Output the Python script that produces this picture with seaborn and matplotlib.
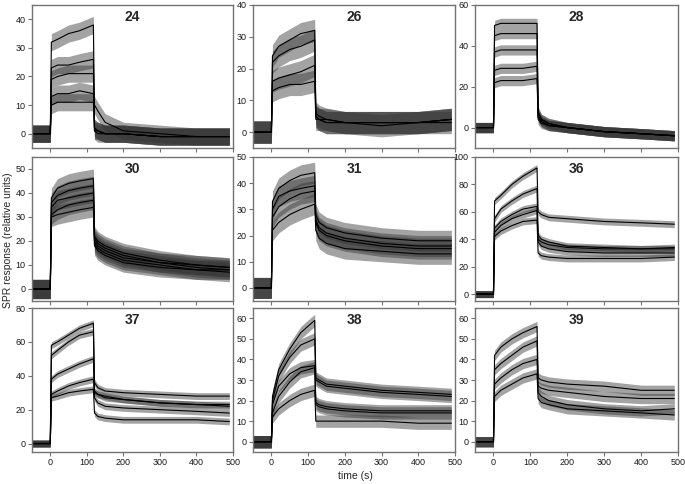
import numpy as np
import pandas as pd
import matplotlib
matplotlib.use("Agg")
import matplotlib.pyplot as plt
import seaborn as sns

times = [-50, 0, 3, 20, 50, 80, 118, 121, 130, 150, 200, 300, 400, 490]

panel_names = ["24", "26", "28", "30", "31", "36", "37", "38", "39"]

traces_24 = [
    [0, 0, 32, 33, 35, 36, 38, 2, 1, 0, 0, -1, -1, -1],
    [0, 0, 23, 24, 24, 25, 26, 2, 1, 0, 0, -1, -1, -1],
    [0, 0, 19, 20, 21, 21, 21, 1, 1, 0, 0, -1, -1, -1],
    [0, 0, 13, 14, 14, 15, 14, 10, 8, 4, 1, 0, -1, -1],
    [0, 0, 10, 11, 11, 11, 11, 1, 0, 0, 0, -1, -1, -1],
]
traces_26 = [
    [0, 0, 24, 27, 29, 31, 32, 6, 5, 4, 3, 3, 3, 4],
    [0, 0, 22, 24, 26, 27, 29, 5, 4, 4, 3, 3, 3, 4],
    [0, 0, 16, 17, 18, 19, 21, 5, 4, 3, 3, 3, 3, 4],
    [0, 0, 13, 14, 15, 15, 16, 4, 4, 3, 3, 2, 3, 3],
]
traces_28 = [
    [0, 0, 50, 51, 51, 51, 51, 8, 4, 2, 0, -2, -3, -4],
    [0, 0, 45, 46, 46, 46, 46, 7, 4, 2, 0, -2, -3, -4],
    [0, 0, 37, 38, 38, 38, 38, 6, 3, 1, 0, -2, -3, -4],
    [0, 0, 28, 29, 29, 29, 30, 5, 3, 1, 0, -2, -3, -4],
    [0, 0, 22, 23, 23, 23, 24, 4, 2, 1, 0, -2, -3, -4],
]
traces_30 = [
    [0, 0, 38, 42, 44, 45, 46, 22, 20, 18, 15, 12, 10, 9],
    [0, 0, 36, 39, 41, 42, 43, 21, 19, 17, 14, 11, 10, 9],
    [0, 0, 34, 37, 38, 39, 40, 20, 18, 16, 13, 11, 9, 8],
    [0, 0, 31, 33, 35, 36, 37, 19, 17, 15, 12, 10, 8, 8],
    [0, 0, 30, 31, 32, 33, 34, 18, 16, 14, 11, 9, 8, 7],
]
traces_31 = [
    [0, 0, 33, 38, 41, 43, 44, 28, 25, 23, 21, 19, 18, 18],
    [0, 0, 30, 35, 37, 38, 39, 26, 23, 21, 19, 17, 16, 16],
    [0, 0, 27, 31, 34, 36, 37, 25, 22, 20, 18, 16, 15, 15],
    [0, 0, 22, 25, 28, 30, 32, 22, 19, 17, 15, 14, 13, 13],
]
traces_36 = [
    [0, 0, 68, 72, 80, 86, 92, 60, 58, 56, 55, 53, 52, 51],
    [0, 0, 55, 62, 68, 73, 77, 43, 40, 38, 35, 34, 33, 34],
    [0, 0, 48, 53, 58, 62, 64, 40, 38, 36, 34, 33, 33, 33],
    [0, 0, 45, 50, 55, 58, 61, 38, 35, 33, 31, 30, 30, 30],
    [0, 0, 42, 46, 50, 53, 54, 30, 28, 27, 26, 26, 26, 27],
]
traces_37 = [
    [0, 0, 58, 60, 64, 68, 71, 36, 33, 31, 30, 29, 28, 28],
    [0, 0, 52, 55, 60, 64, 66, 31, 29, 27, 26, 24, 23, 23],
    [0, 0, 38, 41, 44, 47, 50, 27, 24, 22, 21, 20, 19, 18],
    [0, 0, 29, 31, 34, 36, 38, 30, 29, 28, 26, 24, 23, 22],
    [0, 0, 27, 28, 30, 31, 32, 18, 16, 15, 14, 14, 14, 13],
]
traces_38 = [
    [0, 0, 22, 35, 45, 53, 59, 31, 30, 28, 27, 25, 24, 23],
    [0, 0, 20, 32, 41, 47, 50, 30, 29, 27, 26, 24, 23, 22],
    [0, 0, 18, 27, 33, 36, 37, 19, 18, 17, 16, 15, 15, 15],
    [0, 0, 14, 22, 29, 34, 36, 18, 17, 16, 15, 14, 14, 14],
    [0, 0, 12, 16, 20, 23, 25, 10, 10, 10, 10, 10, 9, 9],
]
traces_39 = [
    [0, 0, 42, 46, 50, 53, 56, 31, 30, 29, 28, 27, 25, 25],
    [0, 0, 35, 38, 42, 46, 49, 27, 26, 25, 24, 22, 21, 21],
    [0, 0, 28, 31, 35, 38, 40, 24, 22, 20, 18, 16, 15, 16],
    [0, 0, 22, 25, 28, 31, 33, 21, 19, 18, 16, 15, 14, 13],
]
all_traces = [traces_24, traces_26, traces_28, traces_30, traces_31,
              traces_36, traces_37, traces_38, traces_39]

# half-width of the noise band seen on each panel (response units)
noise = [3.0, 3.5, 2.5, 4.0, 4.0, 2.5, 2.0, 3.0, 2.5]

y_limits = [(-5, 45), (-5, 40), (-10, 60), (-5, 55), (-5, 50),
            (-5, 100), (-5, 80), (-5, 65), (-5, 65)]
y_steps = [10, 10, 20, 10, 10, 20, 20, 10, 10]

sns.set_style("ticks")
plt.rcParams["font.family"] = ["Liberation Sans", "DejaVu Sans"]

fig = plt.figure(figsize=(6.85, 4.84), dpi=100)
W, H = 685, 484
col_left = [32, 253, 475]
col_width = [201, 202, 203]
row_top = [5, 157, 308]
row_height = [143, 144, 144]

for k, name in enumerate(panel_names):
    r, c = divmod(k, 3)
    ax = fig.add_axes([col_left[c] / W, 1 - (row_top[r] + row_height[r]) / H,
                       col_width[c] / W, row_height[r] / H])
    rows = []
    for i, tr in enumerate(all_traces[k]):
        for t, v in zip(times, tr):
            rows.append({"time": t, "response": v, "trace": i})
    df = pd.DataFrame(rows)
    # band standing in for the measurement noise around each trace
    for i, grp in df.groupby("trace"):
        ax.fill_between(grp["time"], grp["response"] - noise[k],
                        grp["response"] + noise[k], color="0.2", alpha=0.45,
                        lw=0)
    sns.lineplot(data=df, x="time", y="response", units="trace",
                 estimator=None, color="black", lw=0.8, ax=ax, legend=False)
    ax.set_xlim(-50, 500)
    ax.set_ylim(*y_limits[k])
    ax.set_xticks(range(0, 501, 100))
    ax.set_yticks(np.arange(0, y_limits[k][1] + 0.1, y_steps[k]))
    ax.set_xlabel("")
    ax.set_ylabel("")
    ax.tick_params(length=3, width=0.8, color="0.45", labelsize=6.5,
                   pad=1.5, labelcolor="0.1")
    if r < 2:
        ax.set_xticklabels([])
    for s in ax.spines.values():
        s.set_color("0.45")
        s.set_linewidth(1.0)
    ax.text(0.5, 0.915, name, transform=ax.transAxes, ha="center",
            va="center", fontsize=10, fontweight="bold")

fig.text(8 / W, 1 - 240 / H, "SPR response (relative units)", rotation=90,
         ha="center", va="center", fontsize=7.5)
fig.text(355 / W, 1 - 476 / H, "time (s)", ha="center", va="center",
         fontsize=7.5)

fig.savefig("out.png", dpi=100)
